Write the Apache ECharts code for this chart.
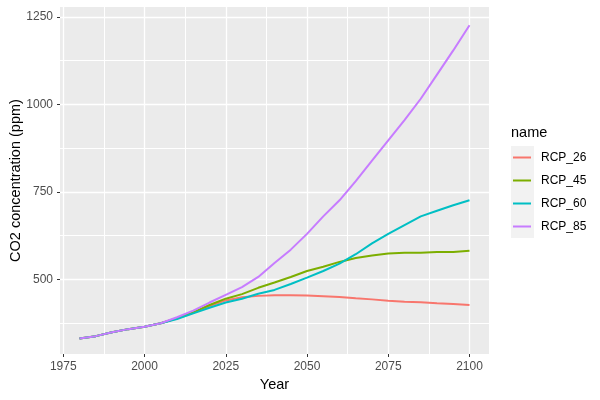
<!DOCTYPE html>
<html>
<head>
<meta charset="utf-8">
<script src="https://cdn.jsdelivr.net/npm/echarts@6/dist/echarts.min.js"></script>
<style>
  html, body { margin: 0; padding: 0; background: #fff; }
  #chart { width: 600px; height: 400px; }
</style>
</head>
<body>
<div id="chart"></div>
<script>
// data, 5-year steps
const years = [1980, 1985, 1990, 1995, 2000, 2005, 2010, 2015, 2020, 2025, 2030, 2035, 2040,
  2045, 2050, 2055, 2060, 2065, 2070, 2075, 2080, 2085, 2090, 2095, 2100]
const rcp26 = [331, 338, 349, 358, 365, 375, 389, 405, 424, 440, 449, 453, 455,
  455, 454, 452, 450, 446, 443, 439, 436, 435, 432, 430, 427]
const rcp45 = [331, 338, 349, 358, 365, 375, 389, 406, 427, 445, 458, 476, 491,
  507, 524, 536, 550, 561, 568, 574, 576, 576, 578, 578, 582]
const rcp60 = [331, 338, 349, 358, 365, 375, 387, 403, 419, 434, 445, 459, 470,
  487, 505, 524, 545, 572, 603, 630, 655, 680, 696, 712, 726]
const rcp85 = [331, 338, 349, 358, 365, 375, 392, 411, 434, 456, 478, 507, 547,
  585, 630, 680, 726, 781, 839, 897, 955, 1016, 1085, 1154, 1226]

const seriesNames = ['RCP_26', 'RCP_45', 'RCP_60', 'RCP_85']
const seriesValues = [rcp26, rcp45, rcp60, rcp85]
const colors = ['#F8766D', '#7CAE00', '#00BFC4', '#C77CFF']

const xTicks = [1975, 2000, 2025, 2050, 2075, 2100]
const xMinor = [1987.5, 2012.5, 2037.5, 2062.5, 2087.5]
const yTicks = [500, 750, 1000, 1250]
const yMinor = [375, 625, 875, 1125]

const font = 'Liberation Sans, Arial, sans-serif'

let myChart = echarts.init(document.getElementById('chart'), null, { renderer: 'canvas' })

const lineSeries = seriesNames.map((name, i) => ({
  name: name,
  type: 'line',
  z: 3,
  showSymbol: false,
  symbol: 'none',
  silent: true,
  lineStyle: { width: 2, color: colors[i] },
  itemStyle: { color: colors[i] },
  data: years.map((y, j) => [y, seriesValues[i][j]])
}))

// empty series only used to draw the minor grid lines under the data
const minorGrid = {
  name: 'minor',
  type: 'line',
  z: 1,
  data: [],
  silent: true,
  markLine: {
    z: 1,
    silent: true,
    symbol: 'none',
    label: { show: false },
    lineStyle: { color: '#FFFFFF', width: 1, type: 'solid' },
    emphasis: { disabled: true },
    data: xMinor.map(v => ({ xAxis: v })).concat(yMinor.map(v => ({ yAxis: v })))
  }
}

let option = {
  animation: false,
  textStyle: { fontFamily: font },
  color: colors,
  title: {
    text: 'name',
    left: 511,
    top: 125,
    padding: 0,
    textStyle: { fontFamily: font, fontSize: 14.5, fontWeight: 'normal', color: '#000' }
  },
  graphic: [
    {
      type: 'rect',
      left: 511,
      top: 146,
      z: -1,
      shape: { width: 23, height: 92 },
      style: { fill: '#F2F2F2' }
    }
  ],
  legend: {
    data: seriesNames,
    orient: 'vertical',
    left: 513,
    top: 146,
    padding: 0,
    itemGap: 0,
    itemWidth: 18,
    itemHeight: 2,
    icon: 'rect',
    textStyle: { fontFamily: font, fontSize: 12, lineHeight: 23, color: '#000', padding: [0, 0, 0, 5] }
  },
  grid: {
    left: 60,
    right: 111,
    top: 7,
    bottom: 46,
    show: true,
    backgroundColor: '#EBEBEB',
    borderWidth: 0,
    outerBoundsMode: 'none'
  },
  xAxis: {
    type: 'value',
    min: 1974,
    max: 2106,
    name: 'Year',
    nameLocation: 'middle',
    nameGap: 23,
    nameMoveOverlap: false,
    nameTextStyle: { fontFamily: font, fontSize: 14.5, color: '#000' },
    axisLine: { show: false },
    axisTick: { show: true, length: 3, customValues: xTicks, lineStyle: { color: '#333333', width: 1 } },
    axisLabel: {
      customValues: xTicks, margin: 7, color: '#4D4D4D', fontSize: 12, fontFamily: font,
      formatter: v => String(v)
    },
    splitLine: { show: true, lineStyle: { color: '#FFFFFF', width: 1.3 } }
  },
  yAxis: {
    type: 'value',
    min: 287,
    max: 1278,
    name: 'CO2 concentration (ppm)',
    nameLocation: 'middle',
    nameGap: 37,
    nameMoveOverlap: false,
    nameTextStyle: { fontFamily: font, fontSize: 14.5, color: '#000' },
    axisLine: { show: false },
    axisTick: { show: true, length: 3, customValues: yTicks, lineStyle: { color: '#333333', width: 1 } },
    axisLabel: {
      customValues: yTicks, margin: 7, color: '#4D4D4D', fontSize: 12, fontFamily: font,
      formatter: v => String(v)
    },
    splitLine: { show: true, lineStyle: { color: '#FFFFFF', width: 1.3 } }
  },
  series: [minorGrid].concat(lineSeries)
}

myChart.setOption(option)
window.addEventListener('resize', () => myChart.resize())
</script>
</body>
</html>
